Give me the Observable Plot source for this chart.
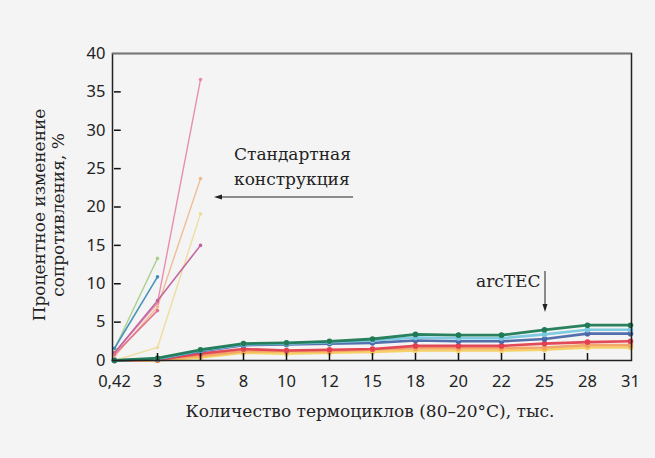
<!DOCTYPE html>
<html>
<head>
<meta charset="utf-8">
<script src="https://cdn.jsdelivr.net/npm/d3@7"></script>
<script src="https://cdn.jsdelivr.net/npm/@observablehq/plot@0.6"></script>
<style>
  html, body { margin: 0; padding: 0; background: #f4f4f4; }
  #chart { position: relative; width: 655px; height: 458px; }
  .lbl { position: absolute; font-family: "DejaVu Serif", serif; color: #222; white-space: nowrap; }
</style>
</head>
<body>
<div id="chart"></div>
<script>
// Categories (thousand thermal cycles)
const categories = ["0,42", "3", "5", "8", "10", "12", "15", "18", "20", "22", "25", "28", "31"];
const yTicks = [0, 5, 10, 15, 20, 25, 30, 35, 40];

// Standard construction series (first three categories)
const stdPink    = [1.0, 7.5, 36.6];
const stdOrange  = [0.5, 7.0, 23.7];
const stdYellow  = [0.0, 1.7, 19.1];
const stdPurple  = [1.0, 7.8, 15.0];
const stdRed     = [0.8, 6.5];
const stdGreen   = [1.5, 13.3];
const stdBlue    = [1.6, 10.9];

// arcTEC series (all categories)
const arcGreen  = [0.0, 0.3, 1.4, 2.2, 2.3, 2.5, 2.8, 3.4, 3.3, 3.3, 4.0, 4.6, 4.6];
const arcCyan   = [0.0, 0.2, 1.3, 2.1, 2.2, 2.4, 2.6, 3.0, 2.9, 2.9, 3.4, 4.0, 4.0];
const arcBlue   = [0.0, 0.2, 1.2, 2.0, 2.1, 2.2, 2.3, 2.6, 2.5, 2.5, 2.8, 3.5, 3.5];
const arcRed    = [0.0, 0.1, 0.9, 1.5, 1.3, 1.4, 1.5, 1.9, 1.9, 1.9, 2.2, 2.4, 2.5];
const arcOrange = [0.0, 0.1, 0.6, 1.2, 1.2, 1.2, 1.4, 1.6, 1.6, 1.6, 1.7, 2.0, 2.0];
const arcYellow = [0.0, 0.0, 0.4, 1.0, 0.9, 1.0, 1.1, 1.3, 1.3, 1.3, 1.4, 1.7, 1.7];

const series = [
  {name: "stdPink",   values: stdPink,   color: "#e889aa", w: 1.4},
  {name: "stdOrange", values: stdOrange, color: "#f0b98c", w: 1.4},
  {name: "stdYellow", values: stdYellow, color: "#eedc9a", w: 1.4},
  {name: "stdPurple", values: stdPurple, color: "#c0609e", w: 1.6},
  {name: "stdRed",    values: stdRed,    color: "#e3708c", w: 1.6},
  {name: "stdGreen",  values: stdGreen,  color: "#a8d08a", w: 1.4},
  {name: "stdBlue",   values: stdBlue,   color: "#3f8fb8", w: 1.6},
  {name: "arcYellow", values: arcYellow, color: "#f5cf60", w: 2.6},
  {name: "arcOrange", values: arcOrange, color: "#f2a263", w: 2.6},
  {name: "arcRed",    values: arcRed,    color: "#e2404f", w: 2.6},
  {name: "arcBlue",   values: arcBlue,   color: "#4a67a8", w: 2.6},
  {name: "arcCyan",   values: arcCyan,   color: "#78c8e0", w: 2.6},
  {name: "arcGreen",  values: arcGreen,  color: "#1f7a55", w: 2.8}
];

const rows = series.flatMap(s => s.values.map((v, i) => ({series: s.name, x: categories[i], y: v})));

const lineMarks = series.map(s => Plot.line(rows.filter(r => r.series === s.name), {
  x: "x", y: "y", stroke: s.color, strokeWidth: s.w, strokeOpacity: 0.95
}));
const dotMarks = series.map(s => Plot.dot(rows.filter(r => r.series === s.name), {
  x: "x", y: "y", fill: s.color, r: s.w > 2 ? 2.8 : 1.8
}));

const W = 655, H = 458, ML = 112, MR = 24, MT = 53, MB = 98;
const xStep = (W - ML - MR) / (categories.length - 1);      // px between categories
const yUnit = (H - MT - MB) / 40;                            // px per y unit
const yTickLen = 7, xTickLen = 7;

const plot = Plot.plot({
  width: W,
  height: H,
  marginLeft: ML,
  marginRight: MR,
  marginTop: MT,
  marginBottom: MB,
  style: {background: "#f4f4f4", fontFamily: "'Noto Sans', sans-serif", fontSize: "16px", color: "#222"},
  x: {type: "point", domain: categories, padding: 0},
  y: {domain: [0, 40]},
  marks: [
    ...lineMarks,
    ...dotMarks,
    Plot.axisY({ticks: yTicks, tickSize: 0, tickPadding: 7, label: null, fontSize: 16.5}),
    Plot.axisX({tickSize: 0, tickPadding: 15, label: null, fontSize: 16.5}),
    // inward tick marks (rules spanning one step, trimmed by insets)
    Plot.ruleY(yTicks.slice(1, -1), {y: d => d, x1: d => categories[0], x2: d => categories[1],
      insetRight: xStep - yTickLen, stroke: "#111", strokeWidth: 1.5}),
    Plot.ruleX(categories.slice(1, -1), {x: d => d, y1: d => 5, y2: d => 0,
      insetTop: 5 * yUnit - xTickLen, stroke: "#111", strokeWidth: 1.5}),
    Plot.frame({stroke: "#222", strokeWidth: 1.5}),
    Plot.ruleY([40], {stroke: "#777", strokeWidth: 1.5})
  ]
});

const chart = document.getElementById("chart");
chart.appendChild(plot);
plot.style.position = "absolute";
plot.style.left = "0px";
plot.style.top = "0px";

function addLabel(html, left, top, size, extra) {
  const d = document.createElement("div");
  d.className = "lbl";
  d.innerHTML = html;
  d.style.left = left + "px";
  d.style.top = top + "px";
  d.style.fontSize = size + "px";
  if (extra) Object.assign(d.style, extra);
  chart.appendChild(d);
  return d;
}

// y-axis title (rotated, two lines)
addLabel("Процентное изменение<br>сопротивления, %", 49, 215, 17, {
  transform: "translate(-50%, -50%) rotate(-90deg)", textAlign: "center", lineHeight: "19px"
});
// x-axis title
addLabel("Количество термоциклов (80–20°C), тыс.", 370, 401, 17, {transform: "translateX(-50%)"});
// Annotations
addLabel("Стандартная<br>конструкция", 234, 142, 17, {lineHeight: "25px"});
addLabel("arcTEC", 476, 271, 17);

// arrows
const ns = "http://www.w3.org/2000/svg";
const svgA = document.createElementNS(ns, "svg");
svgA.setAttribute("width", W); svgA.setAttribute("height", H);
svgA.style.position = "absolute"; svgA.style.left = "0"; svgA.style.top = "0"; svgA.style.pointerEvents = "none";
svgA.innerHTML = `
  <line x1="353" y1="197" x2="220" y2="197" stroke="#222" stroke-width="1"/>
  <path d="M214,197 L222,194.5 L222,199.5 Z" fill="#222"/>
  <line x1="545" y1="271" x2="545" y2="306" stroke="#222" stroke-width="1"/>
  <path d="M545,312 L542.5,304 L547.5,304 Z" fill="#222"/>
`;
chart.appendChild(svgA);
</script>
</body>
</html>
